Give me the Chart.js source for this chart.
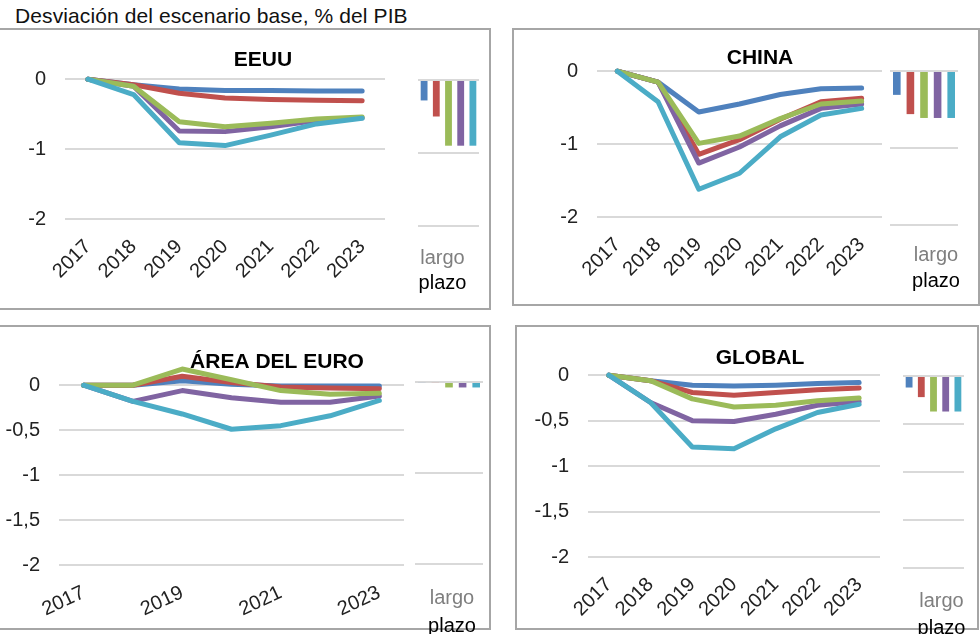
<!DOCTYPE html>
<html>
<head>
<meta charset="utf-8">
<script src="https://cdn.jsdelivr.net/npm/chart.js@4/dist/chart.umd.min.js"></script>
<style>
    body { margin: 0; width: 980px; height: 634px; overflow: hidden; position: relative; background: #fff;
           font-family: 'Liberation Sans', Arial, sans-serif; }
    .box { position: absolute; border: 2px solid #a6a6a6; box-sizing: border-box; }
    canvas { position: absolute; }
    #pageTitle { position: absolute; left: 15px; top: 4px; font-size: 21px; letter-spacing: 0.1px; line-height: 24px; color: #111; white-space: nowrap; }
</style>
</head>
<body>
<div id="pageTitle">Desviación del escenario base, % del PIB</div>

<div class="box" style="left:-10px;top:28px;width:501px;height:282px"></div>
<div class="box" style="left:512px;top:28px;width:468px;height:278px"></div>
<div class="box" style="left:-10px;top:325px;width:501px;height:305px"></div>
<div class="box" style="left:515px;top:325px;width:464px;height:305px"></div>

<canvas id="eeuuLine" width="526" height="241" style="left:0;top:48px"></canvas>
<canvas id="chinaLine" width="480" height="241" style="left:520px;top:46px"></canvas>
<canvas id="euroLine" width="554" height="284" style="left:0;top:350px"></canvas>
<canvas id="globalLine" width="480" height="288" style="left:520px;top:346px"></canvas>

<canvas id="eeuuBar" width="71" height="218" style="left:418px;top:78px"></canvas>
<canvas id="chinaBar" width="78" height="225" style="left:890px;top:69px"></canvas>
<canvas id="euroBar" width="78" height="259" style="left:415px;top:380px"></canvas>
<canvas id="globalBar" width="71" height="267" style="left:903px;top:374px"></canvas>

<script>
// años y colores de las cinco simulaciones
const years = ['2017', '2018', '2019', '2020', '2021', '2022', '2023'];
const seriesColors = ['#4f81bd', '#c0504d', '#9bbb59', '#8064a2', '#4bacc6'];
const drawOrder = [5, 4, 2, 3, 1];

// desviación por año (una fila por escenario)
const eeuuLines = [
    [0, -0.08, -0.14, -0.16, -0.16, -0.17, -0.17],
    [0, -0.08, -0.20, -0.27, -0.29, -0.30, -0.31],
    [0, -0.10, -0.61, -0.68, -0.63, -0.57, -0.54],
    [0, -0.10, -0.74, -0.75, -0.68, -0.59, -0.55],
    [0, -0.22, -0.91, -0.95, -0.80, -0.64, -0.56]
];
const chinaLines = [
    [0, -0.15, -0.56, -0.45, -0.32, -0.24, -0.23],
    [0, -0.15, -1.14, -0.94, -0.66, -0.42, -0.37],
    [0, -0.15, -0.99, -0.89, -0.65, -0.45, -0.41],
    [0, -0.15, -1.26, -1.04, -0.75, -0.51, -0.45],
    [0, -0.42, -1.62, -1.40, -0.90, -0.60, -0.51]
];
const euroLines = [
    [0, 0, 0.05, 0.01, -0.01, -0.01, -0.01],
    [0, 0, 0.10, 0.03, -0.02, -0.03, -0.04],
    [0, 0, 0.18, 0.06, -0.06, -0.10, -0.09],
    [0, -0.18, -0.06, -0.14, -0.19, -0.19, -0.12],
    [0, -0.18, -0.32, -0.49, -0.45, -0.34, -0.17]
];
const globalLines = [
    [0, -0.06, -0.11, -0.12, -0.11, -0.09, -0.08],
    [0, -0.06, -0.19, -0.22, -0.19, -0.16, -0.14],
    [0, -0.06, -0.26, -0.35, -0.33, -0.28, -0.25],
    [0, -0.30, -0.50, -0.51, -0.43, -0.33, -0.29],
    [0, -0.30, -0.79, -0.81, -0.59, -0.41, -0.32]
];

// largo plazo
const eeuuLong = [-0.28, -0.50, -0.90, -0.90, -0.90];
const chinaLong = [-0.31, -0.56, -0.61, -0.61, -0.61];
const euroLong = [-0.01, -0.01, -0.06, -0.06, -0.06];
const globalLong = [-0.12, -0.22, -0.37, -0.37, -0.37];

const fontFamily = "'Liberation Sans', Arial, sans-serif";
const tickFont = { family: fontFamily, size: 20 };
const gridColor = '#d9d9d9';
const clear = 'rgba(0,0,0,0)';

const fixWidth = w => scale => { scale.width = w; };
const fixHeight = h => scale => { scale.height = h; };
const commaLabel = v => (v === 0 ? '0' : String(v).replace('.', ','));
// eje vacío: sólo sirve para reservar sitio a la derecha
const spacer = size => ({
    position: 'right',
    grid: { display: false },
    border: { display: false },
    ticks: { display: false },
    afterFit: fixWidth(size)
});

const lineChart = (id, lines, opts) => {
    const datasets = lines.map((vals, i) => ({
        data: vals,
        borderColor: seriesColors[i],
        borderWidth: 5,
        borderJoinStyle: 'round',
        borderCapStyle: 'round',
        pointRadius: 0,
        tension: 0,
        clip: false,
        order: drawOrder[i]
    }));

    new Chart(document.getElementById(id), {
        type: 'line',
        data: { labels: years, datasets: datasets },
        options: {
            responsive: false,
            animation: false,
            devicePixelRatio: 1,
            layout: { padding: 0 },
            plugins: {
                legend: { display: false },
                tooltip: { enabled: false },
                title: {
                    display: true,
                    text: opts.title,
                    color: '#000',
                    font: { family: fontFamily, size: 21, weight: 'bold' },
                    padding: { top: 0, bottom: opts.titleGap }
                }
            },
            scales: {
                x: {
                    offset: true,
                    grid: { display: false },
                    border: { display: false },
                    ticks: {
                        color: '#222',
                        font: tickFont,
                        autoSkip: false,
                        minRotation: opts.rotation,
                        maxRotation: opts.rotation,
                        padding: opts.xPad,
                        callback: (v, i) => (i % opts.every === 0 ? years[i] : '')
                    },
                    afterFit: fixHeight(opts.xHeight)
                },
                y: {
                    min: opts.min,
                    max: 0,
                    grid: { color: gridColor, lineWidth: 2, drawTicks: true, tickLength: 19, tickColor: clear },
                    border: { display: false },
                    ticks: { stepSize: opts.step, color: '#222', font: tickFont, padding: 0, callback: commaLabel },
                    afterFit: fixWidth(opts.yWidth)
                },
                yRight: spacer(opts.padRight)
            }
        }
    });
};

const barChart = (id, values, opts) => {
    const datasets = values.map((v, i) => ({
        data: [v],
        backgroundColor: seriesColors[i],
        barPercentage: 0.56,
        categoryPercentage: 1
    }));
    // la separación de las etiquetas se hace con marcas invisibles
    const labelGap = len => ({ display: true, drawOnChartArea: false, drawTicks: true, tickLength: len, color: clear });

    new Chart(document.getElementById(id), {
        type: 'bar',
        data: { labels: ['largo'], datasets: datasets },
        options: {
            responsive: false,
            animation: false,
            devicePixelRatio: 1,
            layout: { padding: { top: 2, left: 0, right: 10, bottom: 0 } },
            plugins: { legend: { display: false }, tooltip: { enabled: false } },
            scales: {
                x: {
                    grid: labelGap(opts.gap1),
                    border: { display: false },
                    ticks: { color: '#7f7f7f', font: tickFont, padding: 0, minRotation: 0, maxRotation: 0, labelOffset: opts.shift },
                    afterFit: fixHeight(opts.gap1 + 24)
                },
                x2: {
                    type: 'category',
                    labels: ['plazo'],
                    position: 'bottom',
                    grid: labelGap(opts.gap2),
                    border: { display: false },
                    ticks: { color: '#000', font: tickFont, padding: 0, minRotation: 0, maxRotation: 0, labelOffset: opts.shift },
                    afterFit: fixHeight(opts.gap2 + 25)
                },
                y: {
                    min: opts.min,
                    max: 0,
                    grid: { color: gridColor, lineWidth: 2, drawTicks: false },
                    border: { display: false },
                    ticks: { display: false, stepSize: opts.step },
                    afterFit: fixWidth(0)
                }
            }
        }
    });
};

lineChart('eeuuLine', eeuuLines, { title: 'EEUU', min: -2, step: 1, padRight: 141, titleGap: 6, xHeight: 70, yWidth: 65, rotation: 45, xPad: 8, every: 1 });
lineChart('chinaLine', chinaLines, { title: 'CHINA', min: -2, step: 1, padRight: 118, titleGap: 0, xHeight: 70, yWidth: 77, rotation: 45, xPad: 8, every: 1 });
lineChart('euroLine', euroLines, { title: 'ÁREA DEL EURO', min: -2, step: 0.5, padRight: 150, titleGap: 10, xHeight: 69, yWidth: 59, rotation: 25, xPad: 8, every: 2 });
lineChart('globalLine', globalLines, { title: 'GLOBAL', min: -2, step: 0.5, padRight: 120, titleGap: 4, xHeight: 77, yWidth: 68, rotation: 45, xPad: 8, every: 1 });

barChart('eeuuBar', eeuuLong, { min: -2, step: 1, gap1: 20, gap2: 1, shift: -6 });
barChart('chinaBar', chinaLong, { min: -2, step: 1, gap1: 18, gap2: 2, shift: 12 });
barChart('euroBar', euroLong, { min: -2, step: 1, gap1: 22, gap2: 4, shift: 3 });
barChart('globalBar', globalLong, { min: -2, step: 0.5, gap1: 21, gap2: 3, shift: 8 });
</script>
</body>
</html>
